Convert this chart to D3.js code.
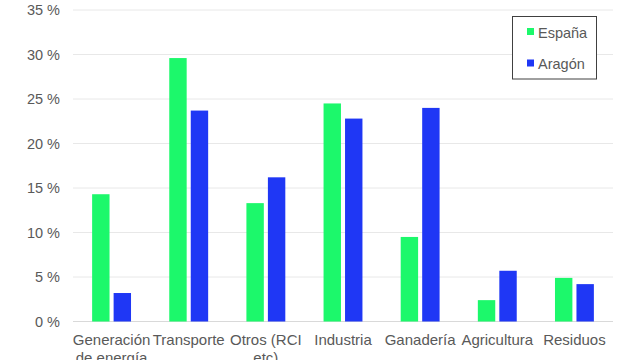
<!DOCTYPE html>
<html><head><meta charset="utf-8">
<script src="https://cdn.jsdelivr.net/npm/d3@7"></script>
<style>body{margin:0;background:#fff}svg{display:block}</style>
</head><body>
<script>
const categories = [["Generación","de energía"],["Transporte"],["Otros (RCI","etc)"],["Industria"],["Ganadería"],["Agricultura"],["Residuos"]];
const seriesNames = ["España","Aragón"];
const espana = [14.3, 29.6, 13.3, 24.5, 9.5, 2.4, 4.9];
const aragon = [3.2, 23.7, 16.2, 22.8, 24.0, 5.7, 4.2];
const yTicks = [0,5,10,15,20,25,30,35];
const colors = ["#1cf86b","#1f37f5"];

const W=640,H=360;
const m={left:73,right:27,top:10,bottom:38.5};
const svg=d3.select("body").append("svg").attr("width",W).attr("height",H);
const font="Liberation Sans, Arial, sans-serif";
const x=d3.scaleBand().domain(d3.range(categories.length)).range([m.left,W-m.right]);
const y=d3.scaleLinear().domain([0,35]).range([H-m.bottom,m.top]);
const xi=d3.scaleBand().domain([0,1]).range([0,x.bandwidth()]).paddingInner(0.19).paddingOuter(0.89);

svg.append("g").selectAll("line").data(yTicks).join("line")
 .attr("x1",m.left).attr("x2",W-m.right).attr("y1",d=>y(d)).attr("y2",d=>y(d))
 .attr("stroke",d=>d===0?"#d9d9d9":"#e8e8e8").attr("stroke-width",1);

const yAxis=svg.append("g").attr("transform",`translate(${m.left},0)`)
 .call(d3.axisLeft(y).tickValues(yTicks).tickFormat(d=>d+" %").tickSize(0).tickPadding(13));
yAxis.select(".domain").remove();
yAxis.selectAll("text").attr("font-family",font).attr("font-size",14.5).attr("fill","#595959");

const data=[espana,aragon];
data.forEach((s,si)=>{
 svg.append("g").selectAll("rect").data(s).join("rect")
  .attr("x",(d,i)=>x(i)+xi(si)).attr("width",xi.bandwidth())
  .attr("y",d=>y(d)).attr("height",d=>y(0)-y(d)).attr("fill",colors[si]);
});

const xl=svg.append("g");
categories.forEach((lines,i)=>{
 const t=xl.append("text").attr("x",x(i)+x.bandwidth()/2).attr("y",345)
  .attr("text-anchor","middle").attr("font-family",font).attr("font-size",15).attr("fill","#595959");
 lines.forEach((l,j)=>t.append("tspan").attr("x",x(i)+x.bandwidth()/2).attr("dy",j?17.5:0).text(l));
});

const lg=svg.append("g");
lg.append("rect").attr("x",512.5).attr("y",16.5).attr("width",84).attr("height",62.5)
 .attr("fill","#fff").attr("stroke","#404040").attr("stroke-width",1);
seriesNames.forEach((n,i)=>{
 const yy=32+i*31.5;
 lg.append("rect").attr("x",527).attr("y",yy-4).attr("width",7).attr("height",7).attr("fill",colors[i]);
 lg.append("text").attr("x",538).attr("y",yy+5.5).attr("font-family",font).attr("font-size",14.5).attr("fill","#595959").text(n);
});
</script>
</body></html>
